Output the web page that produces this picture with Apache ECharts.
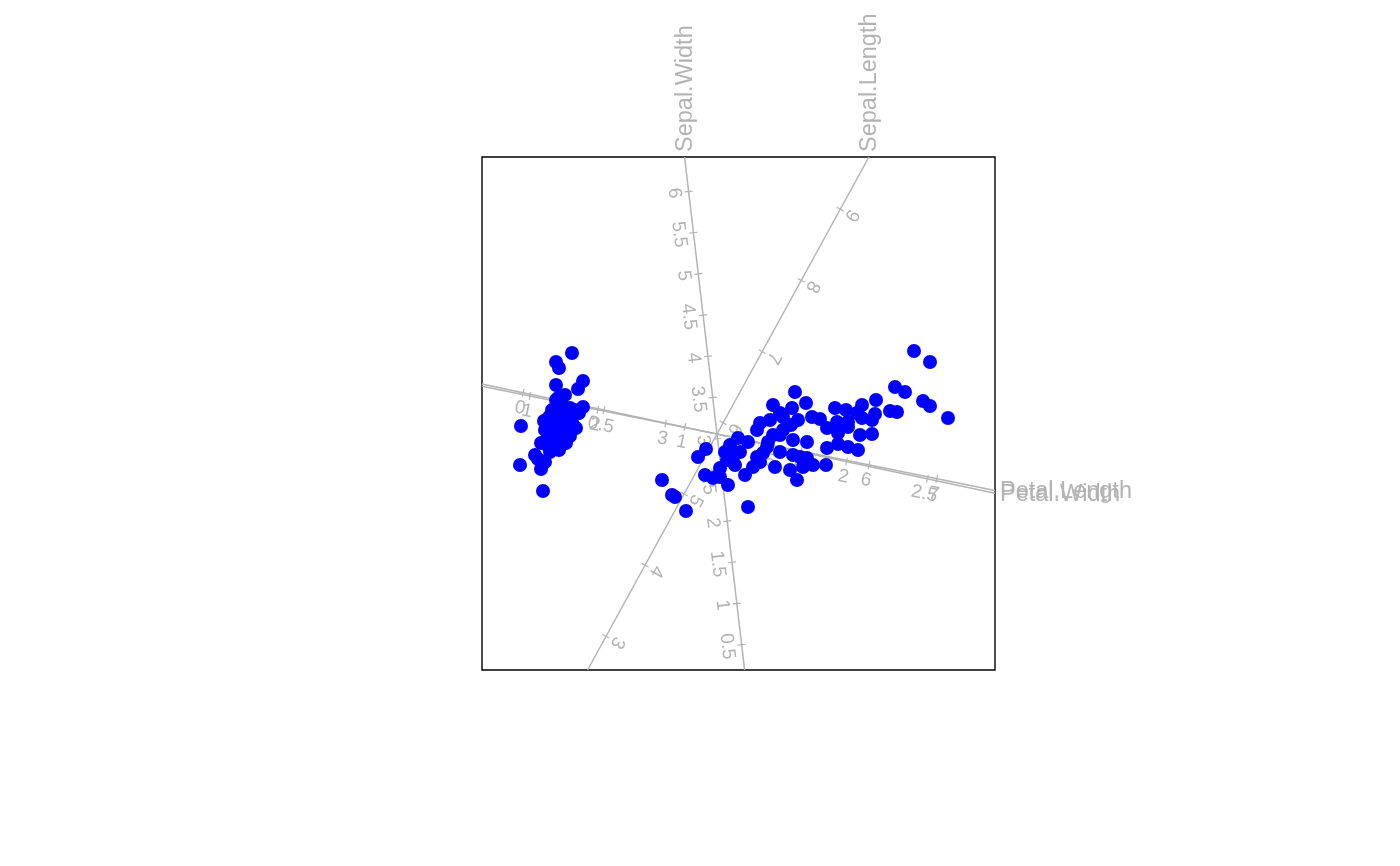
<!DOCTYPE html>
<html>
<head>
<meta charset="utf-8">
<script src="https://cdn.jsdelivr.net/npm/echarts@6/dist/echarts.min.js"></script>
<style>
html,body{margin:0;padding:0;background:#fff;}
#c{width:1400px;height:866px;}
</style>
</head>
<body>
<div id="c"></div>
<script>
// ---- Data (biplot plane coordinates, origin = point where the calibrated axes cross) ----
const setosaX = [-145,-161,-158,-134,-139,-161,-159,-152,-134,-143,-155,-168,-160,-150,-141,-172,-164,-155,-147,-160,-176,-167,-182,-176,-197,-174,-196,-170,-152,-162,-145,-169,-179,-151,-138,-165,-172,-158,-147,-173,-154,-166,-161];
const setosaY = [81,72,66,53,45,49,36,39,27,24,29,17,19,16,6,4,6,4,-2,-7,-9,-18,-21,-35,-31,-57,8,-6,9,12,12,-12,-25,-9,21,24,-28,-16,26,13,22,-2,34];
const otherX = [78,56,89,75,81,43,40,56,66,21,31,-11,-19,8,16,23,40,50,58,36,18,3,-12,-4,11,28,73,80,83,-55,-45,-42,-31,31,3,10,13,66,
  197,213,178,188,206,213,231,173,180,159,145,118,129,95,103,140,158,155,120,131,145,110,121,131,143,155,110,121,131,141,90,76,63,51,46,90,96,109,86,76,63,43,53,63,74];
const otherY = [42,29,31,26,14,11,4,-1,4,-4,-8,-15,-23,-18,-23,-18,-23,-13,-33,-33,-31,-34,-41,-44,-51,-41,-36,-46,-23,-46,-61,-63,-77,-73,-43,-26,-11,17,
  83,72,47,42,33,28,16,23,22,34,29,26,24,17,15,21,20,14,12,12,16,6,1,7,-1,0,-14,-10,-13,-16,-8,-6,-1,-8,-19,-24,-31,-31,-33,-21,-18,-28,14,21,9];

// calibrated axes
const varNames = ['Sepal.Length','Sepal.Width','Petal.Length','Petal.Width'];
const varMeans = [5.843, 3.057, 3.758, 1.199];
const sepalLengthTicks = [3,4,5,6,7,8,9];
const sepalWidthTicks = [0.5,1,1.5,2,2.5,3,3.5,4,4.5,5,5.5,6];
const petalLengthTicks = [1,2,3,4,5,6,7];
const petalWidthTicks = [0,0.5,1,1.5,2,2.5];
const varTicks = [sepalLengthTicks, sepalWidthTicks, petalLengthTicks, petalWidthTicks];

// ---- geometry / style (not data) ----
const X_MIN=-235, X_MAX=278, Y_MIN=-236, Y_MAX=277;
const axisGeom = [
  {gx:39.05, gy:71.2,  side:1,  off:13,   rot:-118.6},
  {gx:-9.64, gy:82.4,  side:-1, off:14.5, rot:-83.3},
  {gx:67.8,  gy:-13.8, side:1,  off:15.5, rot:-11.5},
  {gx:161.7, gy:-34.4, side:1,  off:15.5, rot:-12.0}
];
const GREY = '#b3b3b3';
const FONT = '"Liberation Sans", Arial, Helvetica, sans-serif';

function tRange(g){
  const lo=[], hi=[];
  if (g.gx!==0){ const a=X_MIN/g.gx, b=X_MAX/g.gx; lo.push(Math.min(a,b)); hi.push(Math.max(a,b)); }
  if (g.gy!==0){ const a=Y_MIN/g.gy, b=Y_MAX/g.gy; lo.push(Math.min(a,b)); hi.push(Math.max(a,b)); }
  const tlo=Math.max(...lo), thi=Math.min(...hi);
  // which bound is hit at the high end
  const tyHi = g.gy>0 ? Y_MAX/g.gy : Y_MIN/g.gy;
  const exitTop = Math.abs(thi - tyHi) < 1e-9 && g.gy>0;
  return {tlo, thi, exitTop};
}

function axisSeries(k){
  const g = axisGeom[k];
  const mean = varMeans[k];
  return {
    type:'custom', coordinateSystem:'cartesian2d', clip:false, silent:true, z:1,
    animation:false,
    data: varTicks[k].map(v=>[v]),
    renderItem: function(params, api){
      const v = api.value(0);
      const t = v - mean;
      const p = api.coord([t*g.gx, t*g.gy]);
      const q = api.coord([(t+1)*g.gx, (t+1)*g.gy]);
      let ux=q[0]-p[0], uy=q[1]-p[1];
      const L=Math.hypot(ux,uy); ux/=L; uy/=L;
      const nx=-uy, ny=ux;
      const children = [];
      if (params.dataIndex===0){
        const r = tRange(g);
        const a = api.coord([r.tlo*g.gx, r.tlo*g.gy]);
        const b = api.coord([r.thi*g.gx, r.thi*g.gy]);
        children.push({type:'line', shape:{x1:a[0],y1:a[1],x2:b[0],y2:b[1]}, style:{stroke:GREY, lineWidth:1.5}});
        if (r.exitTop){
          children.push({type:'text', x:b[0]+1, y:b[1]-5, rotation:Math.PI/2,
            style:{text:varNames[k], fill:GREY, font:'23.5px '+FONT, align:'left', verticalAlign:'middle'}});
        } else {
          children.push({type:'text', x:b[0]+5, y:b[1]+1, rotation:0,
            style:{text:varNames[k], fill:GREY, font:'23.5px '+FONT, align:'left', verticalAlign:'middle'}});
        }
      }
      children.push({type:'line', shape:{x1:p[0]-nx*4, y1:p[1]-ny*4, x2:p[0]+nx*4, y2:p[1]+ny*4},
        style:{stroke:GREY, lineWidth:1.2}});
      children.push({type:'text', x:p[0]+nx*g.side*g.off, y:p[1]+ny*g.side*g.off,
        rotation: g.rot*Math.PI/180,
        style:{text:String(v), fill:GREY, font:'19px '+FONT, align:'center', verticalAlign:'middle'}});
      return {type:'group', children};
    }
  };
}

const chart = echarts.init(document.getElementById('c'));
chart.setOption({
  animation:false,
  backgroundColor:'#fff',
  grid:{left:482, top:157, width:513, height:513, show:true, borderColor:'#000', borderWidth:1.4, backgroundColor:'transparent'},
  xAxis:{type:'value', min:X_MIN, max:X_MAX, show:false},
  yAxis:{type:'value', min:Y_MIN, max:Y_MAX, show:false},
  series:[
    axisSeries(0), axisSeries(1), axisSeries(2), axisSeries(3),
    {type:'scatter', z:5, symbol:'circle', symbolSize:14, itemStyle:{color:'#0000ff', opacity:1},
      data: setosaX.map((x,i)=>[x, setosaY[i]])},
    {type:'scatter', z:5, symbol:'circle', symbolSize:14, itemStyle:{color:'#0000ff', opacity:1},
      data: otherX.map((x,i)=>[x, otherY[i]])}
  ]
});
</script>
</body>
</html>
